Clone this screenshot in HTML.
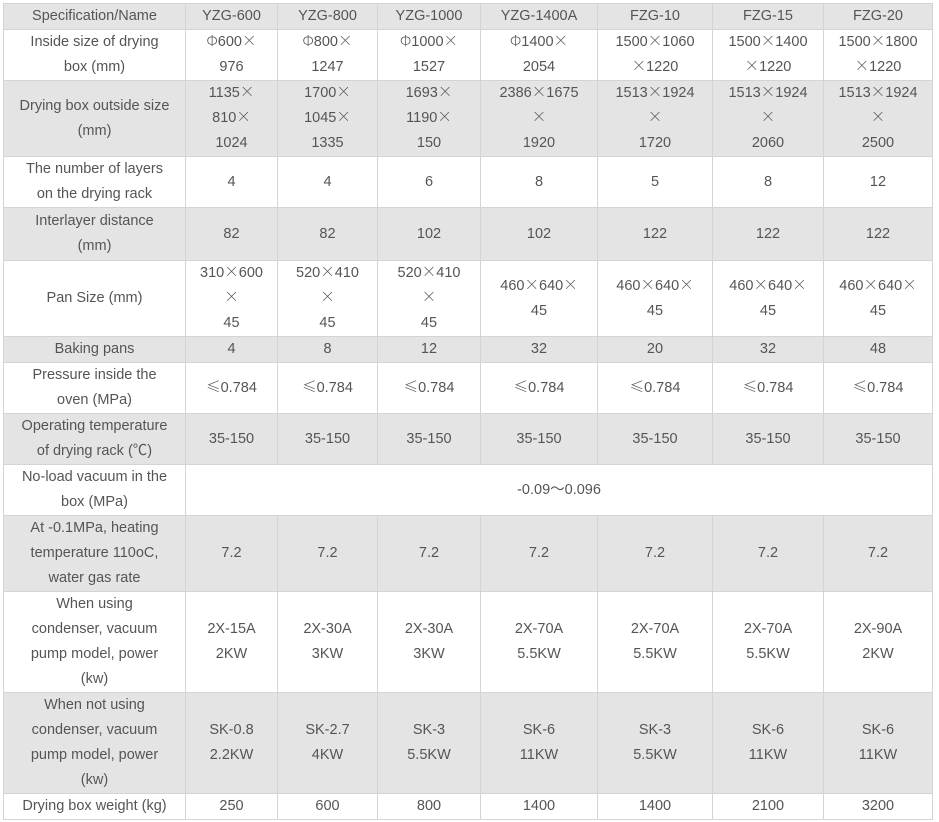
<!DOCTYPE html>
<html><head><meta charset="utf-8"><style>
html,body{margin:0;padding:0;background:#fff;width:939px;height:822px;overflow:hidden}
table{position:absolute;left:3px;top:3px;border-collapse:collapse;table-layout:fixed;width:929px;font-family:"Liberation Sans","Noto Sans CJK SC",sans-serif;font-size:14.5px;color:#555;line-height:25px}
td{border:1px solid #d4d4d4;text-align:center;vertical-align:middle;padding:0;overflow:hidden}
tr.g td{background:#e4e4e4}
.c{font-family:"Noto Sans CJK SC",sans-serif;font-weight:300;line-height:0;display:inline-block;vertical-align:baseline}
</style></head><body>
<table>
<colgroup><col style="width:182px"><col style="width:92px"><col style="width:100px"><col style="width:103px"><col style="width:117px"><col style="width:115px"><col style="width:111px"><col style="width:109px"></colgroup>
<tr class="g" style="height:26px"><td>Specification/Name</td><td>YZG-600</td><td>YZG-800</td><td>YZG-1000</td><td>YZG-1400A</td><td>FZG-10</td><td>FZG-15</td><td>FZG-20</td></tr>
<tr style="height:50px"><td>Inside size of drying<br>box (mm)</td><td><span class="c">Φ</span>600<span class="c">×</span><br>976</td><td><span class="c">Φ</span>800<span class="c">×</span><br>1247</td><td><span class="c">Φ</span>1000<span class="c">×</span><br>1527</td><td><span class="c">Φ</span>1400<span class="c">×</span><br>2054</td><td>1500<span class="c">×</span>1060<br><span class="c">×</span>1220</td><td>1500<span class="c">×</span>1400<br><span class="c">×</span>1220</td><td>1500<span class="c">×</span>1800<br><span class="c">×</span>1220</td></tr>
<tr class="g" style="height:75px"><td>Drying box outside size<br>(mm)</td><td>1135<span class="c">×</span><br>810<span class="c">×</span><br>1024</td><td>1700<span class="c">×</span><br>1045<span class="c">×</span><br>1335</td><td>1693<span class="c">×</span><br>1190<span class="c">×</span><br>150</td><td>2386<span class="c">×</span>1675<br><span class="c">×</span><br>1920</td><td>1513<span class="c">×</span>1924<br><span class="c">×</span><br>1720</td><td>1513<span class="c">×</span>1924<br><span class="c">×</span><br>2060</td><td>1513<span class="c">×</span>1924<br><span class="c">×</span><br>2500</td></tr>
<tr style="height:51px"><td>The number of layers<br>on the drying rack</td><td>4</td><td>4</td><td>6</td><td>8</td><td>5</td><td>8</td><td>12</td></tr>
<tr class="g" style="height:53px"><td>Interlayer distance<br>(mm)</td><td>82</td><td>82</td><td>102</td><td>102</td><td>122</td><td>122</td><td>122</td></tr>
<tr style="height:75px"><td>Pan Size (mm)</td><td>310<span class="c">×</span>600<br><span class="c">×</span><br>45</td><td>520<span class="c">×</span>410<br><span class="c">×</span><br>45</td><td>520<span class="c">×</span>410<br><span class="c">×</span><br>45</td><td>460<span class="c">×</span>640<span class="c">×</span><br>45</td><td>460<span class="c">×</span>640<span class="c">×</span><br>45</td><td>460<span class="c">×</span>640<span class="c">×</span><br>45</td><td>460<span class="c">×</span>640<span class="c">×</span><br>45</td></tr>
<tr class="g" style="height:25px"><td>Baking pans</td><td>4</td><td>8</td><td>12</td><td>32</td><td>20</td><td>32</td><td>48</td></tr>
<tr style="height:49px"><td>Pressure inside the<br>oven (MPa)</td><td><span class="c">≤</span>0.784</td><td><span class="c">≤</span>0.784</td><td><span class="c">≤</span>0.784</td><td><span class="c">≤</span>0.784</td><td><span class="c">≤</span>0.784</td><td><span class="c">≤</span>0.784</td><td><span class="c">≤</span>0.784</td></tr>
<tr class="g" style="height:51px"><td>Operating temperature<br>of drying rack (℃)</td><td>35-150</td><td>35-150</td><td>35-150</td><td>35-150</td><td>35-150</td><td>35-150</td><td>35-150</td></tr>
<tr style="height:51px"><td>No-load vacuum in the<br>box (MPa)</td><td colspan="7">-0.09～0.096</td></tr>
<tr class="g" style="height:76px"><td>At -0.1MPa, heating<br>temperature 110oC,<br>water gas rate</td><td>7.2</td><td>7.2</td><td>7.2</td><td>7.2</td><td>7.2</td><td>7.2</td><td>7.2</td></tr>
<tr style="height:100px"><td>When using<br>condenser, vacuum<br>pump model, power<br>(kw)</td><td>2X-15A<br>2KW</td><td>2X-30A<br>3KW</td><td>2X-30A<br>3KW</td><td>2X-70A<br>5.5KW</td><td>2X-70A<br>5.5KW</td><td>2X-70A<br>5.5KW</td><td>2X-90A<br>2KW</td></tr>
<tr class="g" style="height:101px"><td>When not using<br>condenser, vacuum<br>pump model, power<br>(kw)</td><td>SK-0.8<br>2.2KW</td><td>SK-2.7<br>4KW</td><td>SK-3<br>5.5KW</td><td>SK-6<br>11KW</td><td>SK-3<br>5.5KW</td><td>SK-6<br>11KW</td><td>SK-6<br>11KW</td></tr>
<tr style="height:26px"><td>Drying box weight (kg)</td><td>250</td><td>600</td><td>800</td><td>1400</td><td>1400</td><td>2100</td><td>3200</td></tr>
</table>
</body></html>
